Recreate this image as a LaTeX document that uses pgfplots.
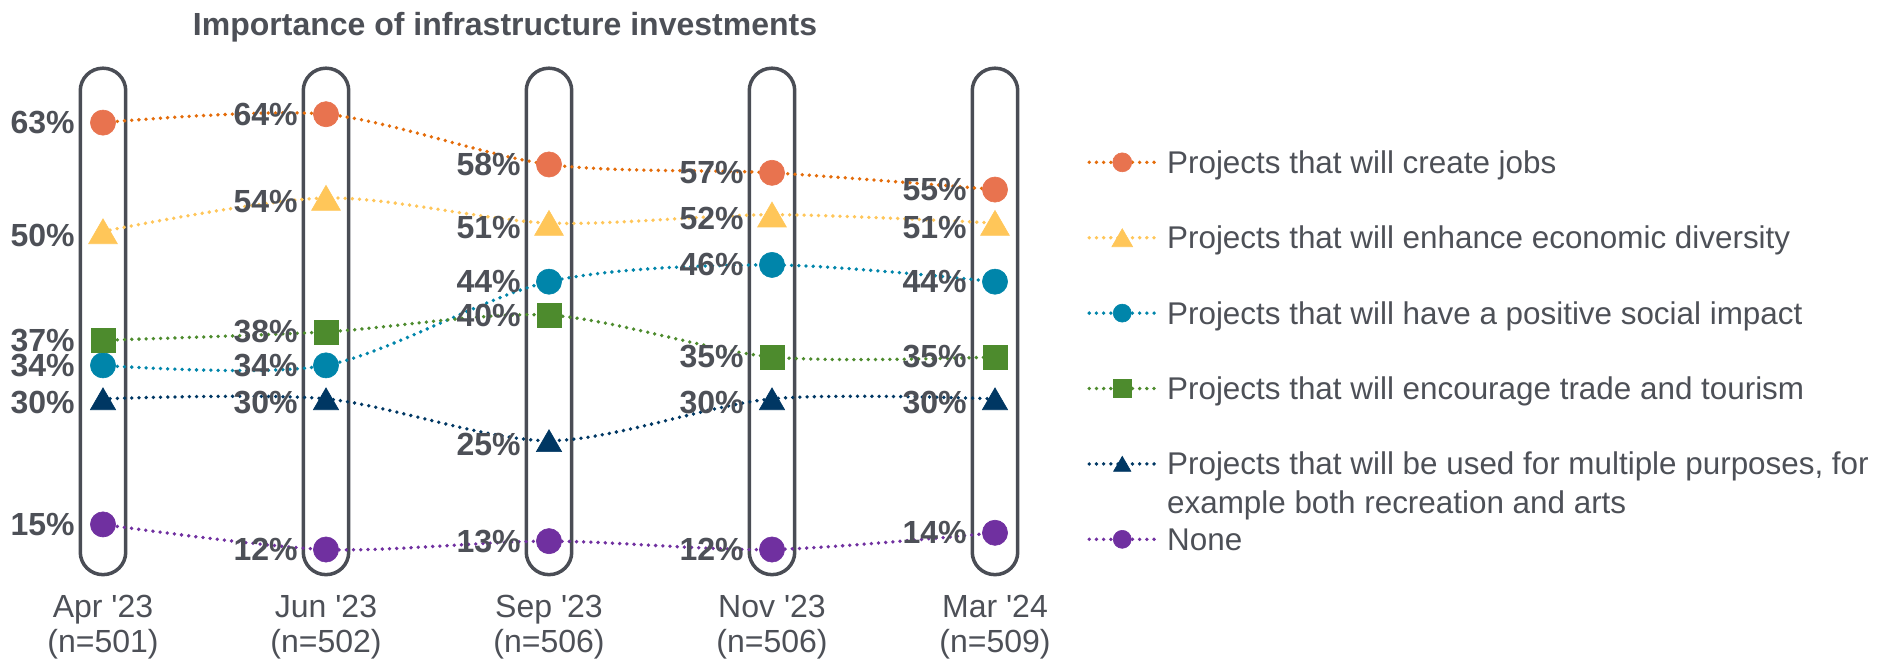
\documentclass[border=0pt]{standalone}
\usepackage{pgfplots}
\pgfplotsset{compat=1.18}
\usepackage{fontspec}
\setmainfont{Liberation Sans}

\definecolor{txt}{HTML}{4D5057}
\definecolor{pill}{HTML}{4A4D55}
\definecolor{jobsM}{HTML}{E8734F}
\definecolor{jobsL}{HTML}{E46C0A}
\definecolor{divers}{HTML}{FFC659}
\definecolor{social}{HTML}{0085AA}
\definecolor{trade}{HTML}{4D8B2D}
\definecolor{multi}{HTML}{003763}
\definecolor{nonec}{HTML}{7030A0}

\tikzset{pillbox/.style={draw=pill, line width=1.75pt, rounded corners=11.3pt}}
\pgfplotsset{
  dotline/.style={line width=1.9pt, line cap=round, dash pattern=on 0pt off 3.6pt, smooth, tension=0.5},
  pct/.style={nodes near coords={\pgfmathprintnumber{\pgfplotspointmeta}\%}, point meta=y,
    nodes near coords style={anchor=east, xshift=-14pt, inner sep=0pt, text=txt,
      font=\fontsize{16}{18}\selectfont\bfseries}},
}

\begin{document}
\begin{tikzpicture}
\begin{axis}[
  at={(51.5pt,38.5pt)}, anchor=south west,
  scale only axis, width=446pt, height=259.5pt,
  xmin=0, xmax=4, ymin=8, ymax=70,
  clip=false,
  hide y axis,
  x axis line style={draw=none},
  xtick={0,1,2,3,4},
  major tick length=0pt,
  xticklabels={{Apr \textquotesingle23\\(n=501)},{Jun \textquotesingle23\\(n=502)},{Sep \textquotesingle23\\(n=506)},{Nov \textquotesingle23\\(n=506)},{Mar \textquotesingle24\\(n=509)}},
  xticklabel style={align=center, inner sep=0pt, yshift=-6pt, text=txt, font=\fontsize{16}{17.5}\selectfont},
  /pgf/number format/assume math mode=true,
  title={Importance of infrastructure investments},
  title style={at={(axis description cs:0.4507,1.031)}, anchor=base, inner sep=0pt, text=txt,
    font=\fontsize{16}{18}\selectfont\bfseries},
  legend style={at={(axis description cs:1.1031,0.884)}, anchor=north west, draw=none, fill=none,
    inner sep=0pt, column sep=5pt, row sep=0pt, font=\fontsize{15.7}{19.5}\selectfont, text=txt,
    nodes={inner sep=0pt, text height=11pt, text depth=0pt, minimum height=37.7pt, anchor=west}},
  legend cell align=left,
  legend image code/.code={\draw[mark repeat=2, mark phase=2] plot coordinates {(0pt,0pt) (16.5pt,0pt) (33pt,0pt)};},
]
% rounded frames behind each survey wave
\draw[pillbox] (axis cs:-0.102,9.0) rectangle (axis cs:0.102,69.5);
\draw[pillbox] (axis cs:0.898,9.0) rectangle (axis cs:1.102,69.5);
\draw[pillbox] (axis cs:1.898,9.0) rectangle (axis cs:2.102,69.5);
\draw[pillbox] (axis cs:2.898,9.0) rectangle (axis cs:3.102,69.5);
\draw[pillbox] (axis cs:3.898,9.0) rectangle (axis cs:4.102,69.5);

\addplot[forget plot, dotline, color=jobsL, mark=*, mark size=6.3pt,
  mark options={solid, draw=jobsM, fill=jobsM, line width=0.3pt}, pct]
  coordinates {(0,63) (1,64) (2,58) (3,57) (4,55)};
\addplot[forget plot, dotline, color=divers, mark=triangle*, mark size=8.3pt,
  mark options={solid, draw=divers, fill=divers, line width=0.3pt, yshift=-2pt}, pct]
  coordinates {(0,50) (1,54) (2,51) (3,52) (4,51)};
\addplot[forget plot, dotline, color=social, mark=*, mark size=6.3pt,
  mark options={solid, draw=social, fill=social, line width=0.3pt}, pct]
  coordinates {(0,34) (1,34) (2,44) (3,46) (4,44)};
\addplot[forget plot, dotline, color=trade, mark=square*, mark size=6pt,
  mark options={solid, draw=trade, fill=trade, line width=0.3pt}, pct]
  coordinates {(0,37) (1,38) (2,40) (3,35) (4,35)};
\addplot[forget plot, dotline, color=multi, mark=triangle*, mark size=7.3pt,
  mark options={solid, draw=multi, fill=multi, line width=0.3pt, yshift=-1.8pt}, pct]
  coordinates {(0,30) (1,30) (2,25) (3,30) (4,30)};
\addplot[forget plot, dotline, color=nonec, mark=*, mark size=6.3pt,
  mark options={solid, draw=nonec, fill=nonec, line width=0.3pt}, pct]
  coordinates {(0,15) (1,12) (2,13) (3,12) (4,14)};

\addlegendimage{dotline, color=jobsL, mark=*, mark size=4.75pt, mark options={solid, draw=jobsM, fill=jobsM, line width=0.3pt}}
\addlegendimage{dotline, color=divers, mark=triangle*, mark size=6pt, mark options={solid, draw=divers, fill=divers, line width=0.3pt, yshift=-1.5pt}}
\addlegendimage{dotline, color=social, mark=*, mark size=4.5pt, mark options={solid, draw=social, fill=social, line width=0.3pt}}
\addlegendimage{dotline, color=trade, mark=square*, mark size=4.5pt, mark options={solid, draw=trade, fill=trade, line width=0.3pt}}
\addlegendimage{dotline, color=multi, mark=triangle*, mark size=5pt, mark options={solid, draw=multi, fill=multi, line width=0.3pt, yshift=-1.2pt}}
\addlegendimage{dotline, color=nonec, mark=*, mark size=4.5pt, mark options={solid, draw=nonec, fill=nonec, line width=0.3pt}}
\legend{Projects that will create jobs,
  Projects that will enhance economic diversity,
  Projects that will have a positive social impact,
  Projects that will encourage trade and tourism,
  {\parbox[t]{420pt}{\raggedright Projects that will be used for multiple purposes, for\\example both recreation and arts}},
  None}
\end{axis}
\pgfresetboundingbox
\useasboundingbox (0,0) rectangle (940pt,330pt);
\end{tikzpicture}
\end{document}
